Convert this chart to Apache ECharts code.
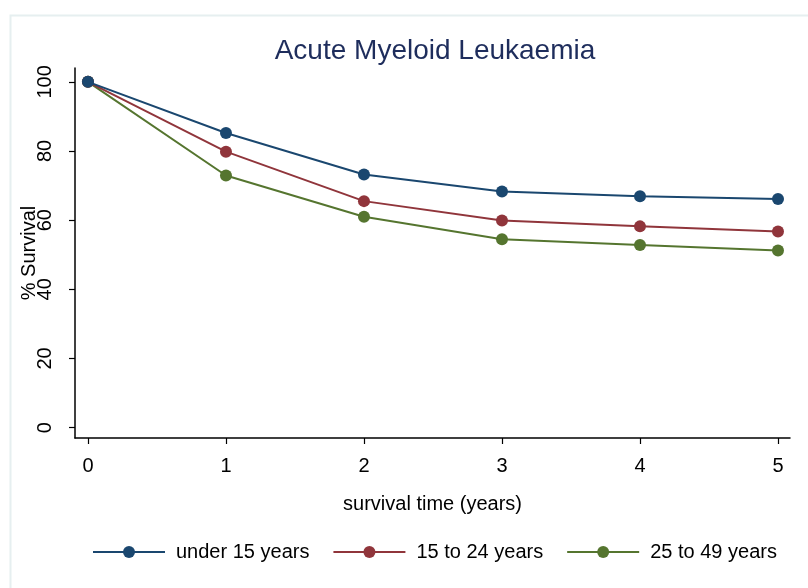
<!DOCTYPE html>
<html>
<head>
<meta charset="utf-8">
<script src="https://cdn.jsdelivr.net/npm/echarts@6/dist/echarts.min.js"></script>
<style>
  html, body { margin: 0; padding: 0; background: #ffffff; }
  #chart { width: 808px; height: 588px; }
</style>
</head>
<body>
<div id="chart"></div>
<script>
// Survival (%) by years since diagnosis, per age group
const years = [0, 1, 2, 3, 4, 5];
const under15 = [100, 85.2, 73.2, 68.3, 66.9, 66.1];
const age15to24 = [100, 79.8, 65.5, 59.9, 58.2, 56.7];
const age25to49 = [100, 72.9, 61.0, 54.5, 52.8, 51.2];
const yTicks = [0, 20, 40, 60, 80, 100];
const xTicks = [0, 1, 2, 3, 4, 5];
const seriesNames = ['under 15 years', '15 to 24 years', '25 to 49 years'];

const colors = ['#1a476f', '#90353b', '#55752f'];
const font = 'Liberation Sans, Arial, sans-serif';

function pairs(vals) {
  return years.map((x, i) => [x, vals[i]]);
}

const chart = echarts.init(document.getElementById('chart'), null, { renderer: 'canvas' });

chart.setOption({
  animation: false,
  backgroundColor: '#ffffff',
  color: colors,
  graphic: [{
    type: 'rect',
    left: 8, top: 13,
    shape: { x: 0, y: 0, width: 820, height: 600 },
    style: { fill: 'none', stroke: '#e6eff0', lineWidth: 2 },
    silent: true
  }],
  title: {
    text: 'Acute Myeloid Leukaemia',
    left: 430, top: 32,
    textAlign: 'center',
    textStyle: { fontFamily: font, fontSize: 28, fontWeight: 'normal', color: '#1e2d5c' }
  },
  grid: { left: 75, right: 18, top: 68, bottom: 150, containLabel: false },
  legend: {
    left: 92, top: 542,
    padding: 0,
    itemWidth: 72, itemHeight: 15, itemGap: 23,
    textStyle: { fontFamily: font, fontSize: 20, color: '#000', padding: [0, 0, 0, 6] },
    data: seriesNames
  },
  xAxis: {
    type: 'value',
    min: -0.094, max: 5.087,
    name: 'survival time (years)',
    nameLocation: 'middle',
    nameGap: 56,
    nameTextStyle: { fontFamily: font, fontSize: 20, color: '#000' },
    axisLine: { show: true, onZero: false, lineStyle: { color: '#000', width: 1.5 } },
    axisTick: { show: true, length: 6, customValues: xTicks, lineStyle: { color: '#000', width: 1.2 } },
    axisLabel: { customValues: xTicks, margin: 18, fontFamily: font, fontSize: 20, color: '#000' },
    splitLine: { show: false }
  },
  yAxis: {
    type: 'value',
    min: -3, max: 104,
    name: '% Survival',
    nameLocation: 'middle',
    nameGap: 36,
    nameMoveOverlap: false,
    nameRotate: 90,
    nameTextStyle: { fontFamily: font, fontSize: 20, color: '#000' },
    axisLine: { show: true, onZero: false, lineStyle: { color: '#000', width: 1.5 } },
    axisTick: { show: true, length: 6, customValues: yTicks, lineStyle: { color: '#000', width: 1.2 } },
    axisLabel: { customValues: yTicks, rotate: 90, margin: 20, fontFamily: font, fontSize: 20, color: '#000' },
    splitLine: { show: false }
  },
  series: [
    { name: seriesNames[0], data: pairs(under15) },
    { name: seriesNames[1], data: pairs(age15to24) },
    { name: seriesNames[2], data: pairs(age25to49) }
  ].map((s, i) => ({
    type: 'line',
    name: s.name,
    data: s.data,
    symbol: 'circle',
    symbolSize: 12,
    lineStyle: { width: 2, color: colors[i] },
    itemStyle: { color: colors[i] },
    z: 3 - i
  }))
});
</script>
</body>
</html>
